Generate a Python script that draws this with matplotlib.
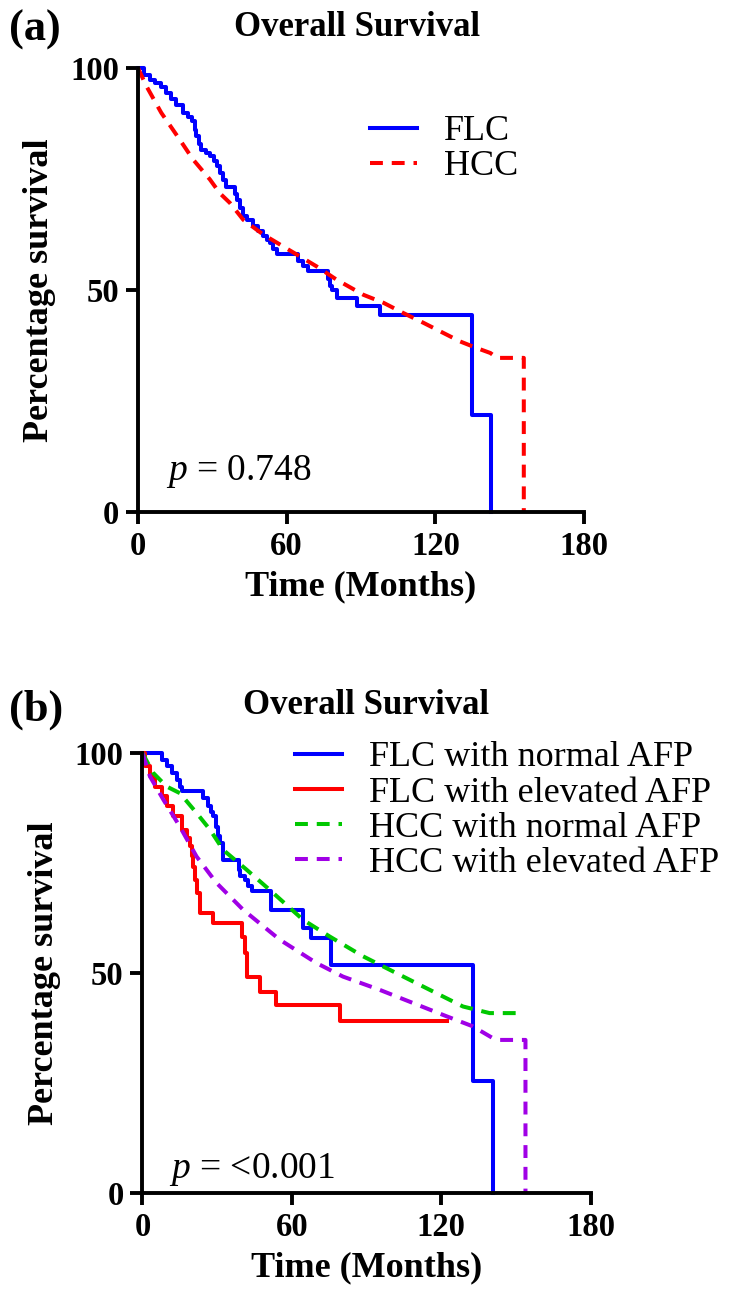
import numpy as np
import matplotlib
matplotlib.use("Agg")
import matplotlib.pyplot as plt

plt.rcParams['font.family'] = ['Liberation Serif', 'DejaVu Serif']
plt.rcParams['mathtext.fontset'] = 'custom'
plt.rcParams['mathtext.rm'] = 'Liberation Serif'
plt.rcParams['mathtext.it'] = 'Liberation Serif:italic'

# ---- panel (a) data: months, percentage survival ----
flc_t = [0, 2.5, 4.7, 7, 9.4, 11.5, 13.5, 15.5, 18.2, 20, 21.6, 23, 23.6, 24.5, 25.6,
         27.5, 29, 30.5, 31.7, 33, 34.4, 35.7, 39, 40, 41, 42.5, 44, 46.5, 48.5, 50.5,
         52, 53.2, 54.5, 55.9, 64, 64.5, 66.7, 68.7, 76.1, 76.5, 77.5, 78.2, 80.2,
         88.3, 97.7, 134.8, 142.4]
flc_s = [100, 98.5, 97.4, 96.6, 95.8, 94.4, 93, 91.7, 89.9, 89, 88, 86, 84.6, 82.8, 81.6,
         80.8, 80.1, 79, 77.9, 76.4, 74.8, 73.3, 71.7, 70.3, 68.5, 66.6, 65.8, 64.3, 63.2, 62.1,
         61.3, 60.6, 59.3, 58, 58, 56.5, 55.3, 54.2, 54.2, 52.5, 51, 50.1, 48.2,
         46.3, 44.4, 21.9, 0]

hcc_t = [0, 3.4, 9.4, 16.8, 22.2, 29, 33, 37.1, 42.5, 50.5, 58.6, 64, 72.1, 80.2, 91,
         99.1, 107.1, 115.2, 123.3, 130, 136.8, 142.2, 144.9, 155.7, 155.7]
hcc_s = [100, 95.9, 89.9, 83.9, 79.4, 74.9, 71.8, 69.6, 65.8, 62.5, 59.8, 58, 55.3, 52.3, 48.9,
         47.1, 44.8, 42.6, 40.3, 38.4, 36.9, 35.8, 34.7, 34.7, 0]

# ---- panel (b) data ----
flc_norm_t = [0, 7.7, 9.7, 11.7, 13.7, 15, 15.7, 24.4, 26.4, 27.7, 28.4, 29.7, 30.4, 31.1,
              32.4, 38.6, 39.1, 41.1, 42.5, 43.8, 51.8, 64.5, 67.8, 75.9, 132.9, 140.7]
flc_norm_s = [100, 98.5, 97, 95.5, 93.9, 92.4, 91.3, 89.8, 87.9, 86.7, 85.6, 83.3, 81.1, 79.5,
              75.8, 73.5, 72, 71.2, 69.7, 68.6, 64.4, 60.2, 58, 51.9, 25.4, 0]

flc_elev_t = [0, 1, 3, 5, 7.7, 9.7, 12.4, 15.7, 17.7, 19, 19.7, 20.4, 21, 21.7, 23.1,
              28.4, 39.8, 41.1, 41.8, 47.1, 53.8, 79.2, 122.4]
flc_elev_s = [100, 97, 94.7, 92.4, 90.2, 87.9, 85.6, 82.6, 80.7, 78.8, 76.5, 74.2, 71.2, 68.2, 63.6,
              61.4, 58.3, 54.5, 49.2, 45.8, 42.8, 39, 39]

hcc_norm_t = [0, 4.3, 9.7, 15, 21.7, 27.1, 32.4, 41.8, 51.1, 64.5, 75.2, 88.6, 101.9,
              115.3, 128.7, 139.4, 152.7]
hcc_norm_s = [100, 95.5, 92.4, 90.9, 86.4, 82.6, 78, 73.5, 68.9, 62.1, 58.3, 53.8, 50,
              46.2, 42.4, 40.9, 40.9]

hcc_elev_t = [0, 3, 8.4, 15, 21.7, 29.7, 40.4, 55.1, 69.8, 80.5, 95.2, 108.6, 122, 132.6,
              140.7, 143.4, 153.8, 153.8]
hcc_elev_s = [100, 94.7, 89.4, 83.3, 76.5, 70.5, 64.4, 57.6, 52.3, 49.2, 46.2, 43.2, 40.2, 37.9,
              35.2, 34.8, 34.8, 0]

x_ticks = [0, 60, 120, 180]
y_ticks = [0, 50, 100]

BLUE = '#0000FF'
RED = '#FF0000'
GREEN = '#00C800'
PURPLE = '#A000E6'
LW = 2.9
DASH = (3.2, 2.2)


def style_axes(ax):
    ax.set_xlim(0, 180)
    ax.set_ylim(0, 100)
    ax.set_xticks(x_ticks)
    ax.set_yticks(y_ticks)
    for s in ['top', 'right']:
        ax.spines[s].set_visible(False)
    for s in ['left', 'bottom']:
        ax.spines[s].set_linewidth(2.8)
    ax.tick_params(direction='out', length=8.6, width=2.8, labelsize=23.5, pad=5)
    for lab in ax.get_xticklabels() + ax.get_yticklabels():
        lab.set_fontweight('bold')
    ax.set_xlabel('Time (Months)', fontsize=26, fontweight='bold', labelpad=6)
    ax.set_ylabel('Percentage survival', fontsize=26, fontweight='bold', labelpad=10)


fig = plt.figure(figsize=(7.36, 13.07), dpi=100)
ax1 = fig.add_axes([0.1875, 0.6083, 0.606, 0.3397])
ax2 = fig.add_axes([0.1936, 0.0872, 0.609, 0.3366])

# panel (a)
ax1.step(flc_t, flc_s, where='post', color=BLUE, lw=LW, label='FLC', clip_on=False)
ax1.plot(hcc_t, hcc_s, color=RED, lw=LW, dashes=DASH, label='HCC', clip_on=False)
style_axes(ax1)
ax1.legend(loc='upper left', bbox_to_anchor=(0.52, 0.894), frameon=False, fontsize=26,
           handlelength=1.3, handletextpad=0.75, labelspacing=0.05,
           borderpad=0, borderaxespad=0)
ax1.text(0.063, 0.072, r'$\it{p}$ = 0.748', transform=ax1.transAxes, fontsize=27,
         va='baseline', ha='left')

# panel (b)
ax2.step(flc_norm_t, flc_norm_s, where='post', color=BLUE, lw=LW,
         label='FLC with normal AFP', clip_on=False)
ax2.step(flc_elev_t, flc_elev_s, where='post', color=RED, lw=LW,
         label='FLC with elevated AFP', clip_on=False)
ax2.plot(hcc_norm_t, hcc_norm_s, color=GREEN, lw=LW, dashes=DASH,
         label='HCC with normal AFP', clip_on=False)
ax2.plot(hcc_elev_t, hcc_elev_s, color=PURPLE, lw=LW, dashes=DASH,
         label='HCC with elevated AFP', clip_on=False)
style_axes(ax2)
ax2.legend(loc='upper left', bbox_to_anchor=(0.34, 1.027), frameon=False, fontsize=26,
           handlelength=1.3, handletextpad=0.75, labelspacing=0.05,
           borderpad=0, borderaxespad=0)
ax2.text(0.059, 0.035, r'$\it{p}$ = <0.001', transform=ax2.transAxes, fontsize=27,
         va='baseline', ha='left')

# titles and panel letters
fig.text(0.485, 0.979, 'Overall Survival', fontsize=25, fontweight='bold', ha='center', va='center')
fig.text(0.497, 0.460, 'Overall Survival', fontsize=25, fontweight='bold', ha='center', va='center')
fig.text(0.012, 0.977, '(a)', fontsize=32, fontweight='bold', ha='left', va='center')
fig.text(0.012, 0.457, '(b)', fontsize=32, fontweight='bold', ha='left', va='center')

fig.savefig('out.png', dpi=100)
